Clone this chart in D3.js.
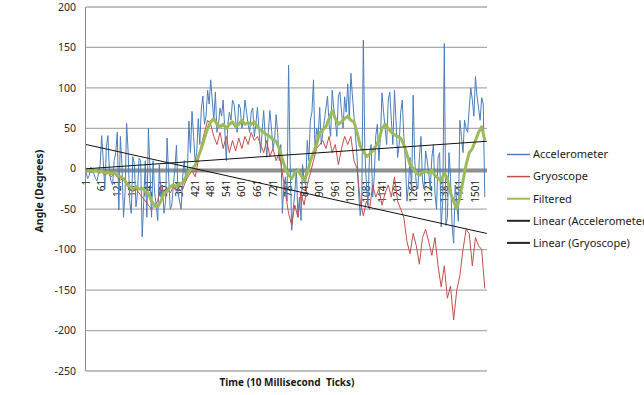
<!DOCTYPE html>
<html>
<head>
<meta charset="utf-8">
<script src="https://cdn.jsdelivr.net/npm/d3@7"></script>
<style>
  body { margin: 0; background: #fff; }
  svg { display: block; font-family: "Noto Sans", sans-serif; }
</style>
</head>
<body>
<svg id="chart" width="644" height="395"></svg>
<script>
// number of 10 ms ticks on the category axis
const tickCount = 1545;
// accelerometer read every 6 ticks (it is noisier), the others every 12
const accelTicks = d3.range(1, tickCount + 1, 6);
const sampleTicks = d3.range(1, tickCount + 1, 12);

const accelerometer = [
  -5, -12, -8, 2, -3, -6, -12, -15, -5, 5, 41, 10, -25, 27, 41, -5, -15, -20, 10, 20, 45,
  -51, 40, 5, -60, -30, 56, 20, -40, -55, 15, 5, -47, -30, 13, 10, -84, -40, 10, -60, 50,
  0, -60, 10, -30, -45, -64, 5, -35, -20, -55, -40, 38, -10, -50, -45, -20, 0, 29, -30, -40,
  -50, -10, 10, -15, -5, 59, 20, 71, 40, 10, 20, 62, 30, 75, 90, 55, 65, 97, 80, 110,
  85, 60, 95, 45, 55, 75, 65, 85, 50, 10, 55, 70, 60, 85, 80, 60, 45, 80, 75, 50,
  60, 85, 70, 55, 45, 70, 75, 40, 55, 76, 50, 20, 45, 72, 40, 14, 45, 72, 50, 25,
  35, 67, 45, 10, 30, -55, -20, -10, -40, 128, 10, -76, -50, -30, 0, -60, -35, -64, 5, -15,
  -20, 35, 10, 60, 70, 110, 20, 50, 40, 76, 30, 45, 60, 75, 90, 55, 40, 97, 75, 60,
  40, 90, 95, 70, 50, 89, 70, 105, 60, 118, 90, 65, 40, 14, -30, -58, -40, 159, 20, -20,
  -45, 19, 30, -35, -10, 41, 55, 10, 40, 94, 70, 50, 30, 85, 95, 60, 30, 97, 60, 14,
  30, 70, 85, 40, 10, -40, -20, 14, -30, 91, 10, -18, -25, 14, 40, -15, -25, 22, 10, -5,
  -25, 14, 30, -30, -50, 14, 20, -72, -40, 155, -70, -60, 20, -10, -70, -92, -20, -40, -65, 60,
  40, 20, 60, 50, 45, 75, 100, 85, 65, 114, 90, 75, 60, 88, 80, -35
];

const gyroscope = [
  0, -3, -5, -2, -6, -4, -8, -5, -10, -6, -10,
  -14, -12, -20, -25, -28, -25, -30, -35, -40, -45,
  -50, -45, -40, -20, -30, -25, -30, -22, -28, -20,
  -25, -15, -8, -2, -10, 10, 30, 45, 60, 55,
  40, 30, 45, 25, 40, 20, 35, 22, 38, 25,
  40, 30, 45, 35, 40, 30, 20, 35, 15, 25,
  10, 20, -5, -30, -55, -70, -45, -60, -30, -45,
  -20, -5, 10, 25, 30, 35, 25, 40, 20, 30,
  5, 25, 40, 30, 40, 10, 0, -40, -58, -40,
  -50, -20, -35, -25, -45, -30, -20, -35, -10, -40,
  -50, -60, -90, -105, -80, -95, -118, -85, -75, -90,
  -107, -85, -120, -146, -120, -160, -145, -187, -150, -132,
  -100, -75, -80, -120, -85, -95, -100, -148
];

const filtered = [
  0, -2, -3, -2, -4, -3, -5, -4, -6, -5, -8,
  -10, -12, -18, -22, -25, -22, -25, -24, -28, -30,
  -40, -46, -47, -40, -30, -28, -22, -20, -22, -18,
  -18, -10, -3, 0, 4, 15, 25, 38, 50, 58,
  62, 55, 52, 55, 50, 55, 58, 52, 55, 60,
  55, 57, 55, 58, 52, 48, 45, 42, 40, 36,
  34, 25, 12, 0, -8, -12, -5, -2, -8, -14,
  -5, 10, 20, 30, 45, 48, 52, 62, 72, 62,
  55, 58, 62, 65, 60, 58, 45, 28, 22, 15,
  18, 22, 28, 35, 50, 55, 50, 45, 42, 40,
  38, 30, 18, 5, 0, -5, -8, -5, -3, -5,
  -2, -8, -12, -15, -5, -12, -30, -40, -50, -35,
  -15, 5, 20, 25, 35, 45, 52, 35
];

// linear trend lines, value at first and last tick
const trendTicks = [1, tickCount];
const accelTrend = [0, 34];
const gyroTrend = [30, -80];

const xLabels = [1, 61, 121, 181, 241, 301, 361, 421, 481, 541, 601, 661, 721,
  781, 841, 901, 961, 1021, 1081, 1141, 1201, 1261, 1321, 1381, 1441, 1501];
const yTicks = [-250, -200, -150, -100, -50, 0, 50, 100, 150, 200];

const legendNames = ["Accelerometer", "Gryoscope", "Filtered",
  "Linear (Accelerometer)", "Linear (Gryoscope)"];

const svg = d3.select("#chart");

const plot = { left: 86, right: 487, top: 7, bottom: 371 };

const x = d3.scaleLinear()
  .domain([0.5, tickCount + 0.5])
  .range([plot.left, plot.right]);

const y = d3.scaleLinear()
  .domain([-250, 200])
  .range([plot.bottom, plot.top]);

// horizontal gridlines
svg.append("g")
  .selectAll("line")
  .data(yTicks)
  .join("line")
  .attr("x1", plot.left)
  .attr("x2", plot.right)
  .attr("y1", d => y(d))
  .attr("y2", d => y(d))
  .attr("stroke", "#ababab")
  .attr("stroke-width", 1.3);

// value axis line
svg.append("line")
  .attr("x1", plot.left - 0.5)
  .attr("x2", plot.left - 0.5)
  .attr("y1", plot.top)
  .attr("y2", plot.bottom)
  .attr("stroke", "#8c8c8c");

// y tick labels
svg.append("g")
  .selectAll("text")
  .data(yTicks)
  .join("text")
  .attr("x", 76)
  .attr("y", d => y(d))
  .attr("dy", "0.35em")
  .attr("text-anchor", "end")
  .attr("fill", "#262626")
  .style("font-size", "10.5px")
  .text(d => d);

// category axis crosses at zero, thick gray line
svg.append("line")
  .attr("x1", plot.left)
  .attr("x2", plot.right)
  .attr("y1", y(0) + 2)
  .attr("y2", y(0) + 2)
  .attr("stroke", "#8f8f8f")
  .attr("stroke-width", 3.5);

// rotated category labels hanging below the zero line
svg.append("g")
  .selectAll("text")
  .data(xLabels)
  .join("text")
  .attr("transform", d => `translate(${x(d)},${y(0) + 11}) rotate(-90)`)
  .attr("dy", "0.35em")
  .attr("text-anchor", "end")
  .attr("fill", "#1a1a1a")
  .style("font-size", "10px")
  .text(d => d);

const series = [
  { values: accelerometer, ticks: accelTicks, color: "#4a7ebb", width: 1 },
  { values: gyroscope, ticks: sampleTicks, color: "#c0504d", width: 1 },
  { values: filtered, ticks: sampleTicks, color: "#9bbb59", width: 3 }
];

series.forEach(s => {
  const line = d3.line()
    .x((d, i) => x(s.ticks[i]))
    .y(d => y(d));
  svg.append("path")
    .datum(s.values)
    .attr("fill", "none")
    .attr("stroke", s.color)
    .attr("stroke-width", s.width)
    .attr("stroke-linejoin", "round")
    .attr("d", line);
});

// trend lines
const trendLine = d3.line()
  .x((d, i) => x(trendTicks[i]))
  .y(d => y(d));

[accelTrend, gyroTrend].forEach(t => {
  svg.append("path")
    .datum(t)
    .attr("fill", "none")
    .attr("stroke", "#111")
    .attr("stroke-width", 1)
    .attr("d", trendLine);
});

// legend
const legendColors = ["#4a7ebb", "#c0504d", "#9bbb59", "#262626", "#262626"];
const legend = svg.append("g");
legendNames.forEach((name, i) => {
  const ly = 154.5 + i * 22.1;
  legend.append("line")
    .attr("x1", 507)
    .attr("x2", 530)
    .attr("y1", ly)
    .attr("y2", ly)
    .attr("stroke", legendColors[i])
    .attr("stroke-width", i < 2 ? 1.5 : 2);
  legend.append("text")
    .attr("x", 533)
    .attr("y", ly)
    .attr("dy", "0.35em")
    .attr("fill", "#1a1a1a")
    .style("font-size", "11px")
    .text(name);
});

// axis titles
svg.append("text")
  .attr("transform", "translate(39,191) rotate(-90)")
  .attr("dy", "0.35em")
  .attr("text-anchor", "middle")
  .attr("fill", "#1a1a1a")
  .style("font-size", "10.5px")
  .style("font-weight", "bold")
  .text("Angle (Degrees)");

svg.append("text")
  .attr("x", 287)
  .attr("y", 382)
  .attr("dy", "0.35em")
  .attr("text-anchor", "middle")
  .attr("fill", "#1a1a1a")
  .style("font-size", "10px")
  .style("font-weight", "bold")
  .style("white-space", "pre")
  .text("Time (10 Millisecond  Ticks)");
</script>
</body>
</html>
